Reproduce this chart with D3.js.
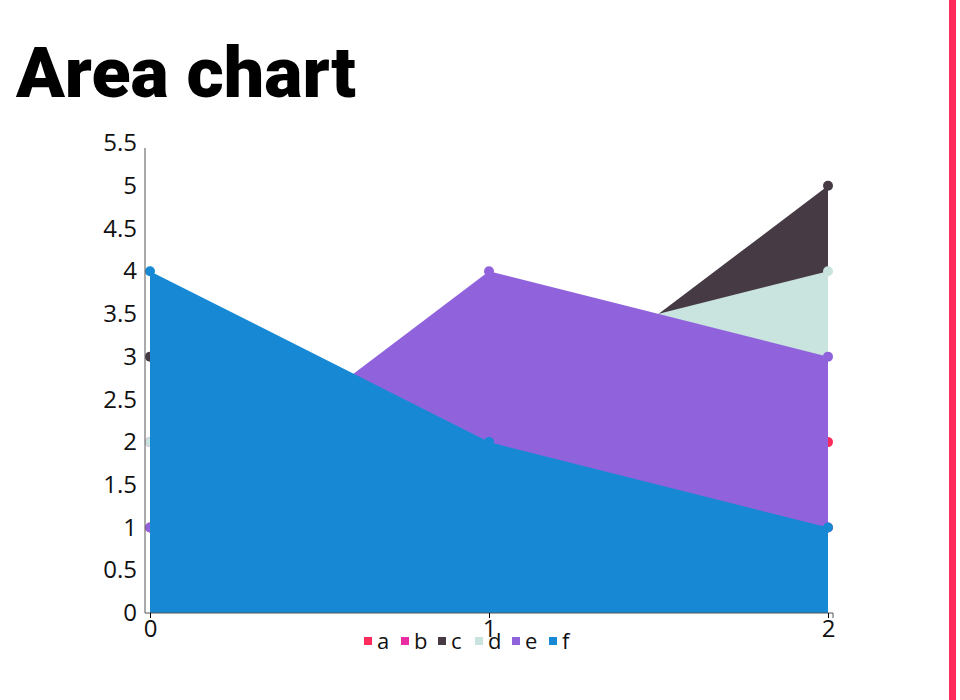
<!DOCTYPE html>
<html><head><meta charset="utf-8">
<script src="https://cdn.jsdelivr.net/npm/d3@7"></script>
<style>body{margin:0;background:#fff;font-family:"Open Sans",sans-serif}</style>
</head><body>
<svg id="c" width="960" height="700"></svg>
<script>
const xValues = [0, 1, 2];
const seriesNames = ["a", "b", "c", "d", "e", "f"];
const seriesValues = [
  [1, 2, 2],
  [2, 1, 1],
  [3, 2, 5],
  [2, 3, 4],
  [1, 4, 3],
  [4, 2, 1]
];
const colors = ["#fc2b5c", "#ea2ca3", "#463a45", "#c9e3de", "#9063dc", "#1789d4"];
const yTicks = d3.range(0, 5.51, 0.5);

const svg = d3.select("#c");
svg.append("rect").attr("x", 949).attr("y", 0).attr("width", 7).attr("height", 700).attr("fill", "#fc2b5c");
svg.append("text").attr("x", 16).attr("y", 97).text("Area chart")
  .attr("font-family", "Roboto, sans-serif").attr("font-weight", 900)
  .attr("font-size", 70).attr("textLength", 340).attr("lengthAdjust", "spacingAndGlyphs").attr("fill", "#000");

const x = d3.scaleLinear().domain([0, 2]).range([150, 828]);
const y = d3.scaleLinear().domain([0, 5.5]).range([613, 143]);

const g = svg.append("g");
const area = d3.area().x((d, i) => x(xValues[i])).y0(y(0)).y1(d => y(d));
seriesValues.forEach((vals, s) => {
  const sg = g.append("g");
  sg.append("path").datum(vals).attr("d", area).attr("fill", colors[s]);
  sg.selectAll("circle").data(vals).join("circle")
    .attr("cx", (d, i) => x(xValues[i])).attr("cy", d => y(d)).attr("r", 5).attr("fill", colors[s]);
});

const ya = svg.append("g").attr("transform", "translate(145,0)")
  .call(d3.axisLeft(y).tickValues(yTicks).tickFormat(d3.format("~g")).tickSize(0).tickPadding(8));
const xa = svg.append("g").attr("transform", "translate(0,613)")
  .call(d3.axisBottom(x).tickValues(xValues).tickFormat(d3.format("d")).tickSize(5).tickPadding(2));
[ya, xa].forEach(a => {
  a.selectAll("text").attr("font-size", 24).attr("fill", "#111").attr("font-family", "Open Sans, sans-serif");
  a.select(".domain").attr("stroke", "#555");
});
xa.select(".domain").attr("d", "M145,0H833V5");
ya.select(".domain").attr("d", "M0,148V613");

const lg = svg.append("g").attr("transform", "translate(364,641)");
seriesNames.forEach((n, i) => {
  const it = lg.append("g").attr("transform", `translate(${i * 37},0)`);
  it.append("rect").attr("x", 0).attr("y", -4).attr("width", 8).attr("height", 8).attr("fill", colors[i]);
  it.append("text").attr("x", 13).attr("y", 8).text(n).attr("font-size", 22).attr("fill", "#111");
});
</script>
</body></html>
